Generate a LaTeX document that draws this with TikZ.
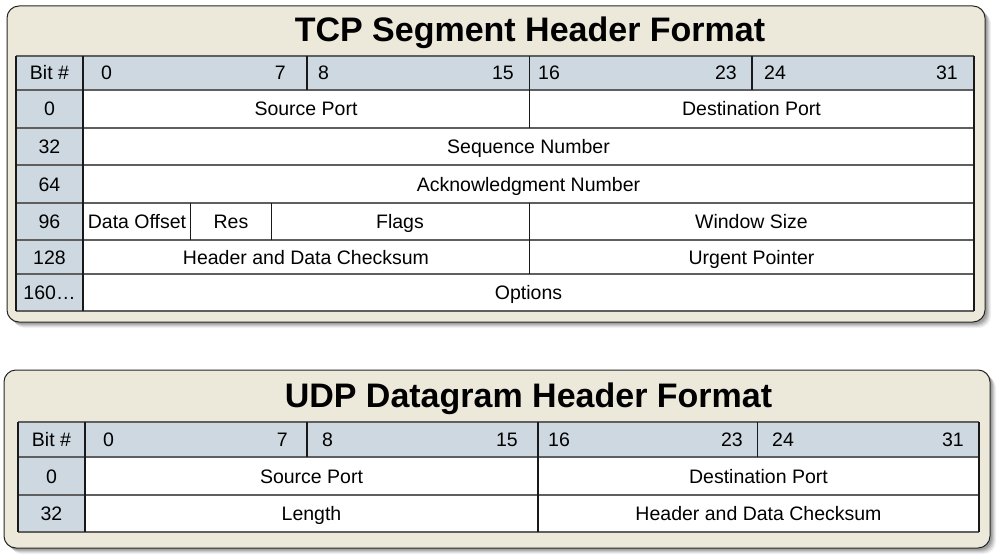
\documentclass[tikz,border=0pt]{standalone}
\usepackage{fontspec}
\setmainfont{Liberation Sans}
\definecolor{panelbg}{RGB}{236,233,218}
\definecolor{headbg}{RGB}{205,216,224}
\definecolor{hline}{RGB}{95,95,95}
\definecolor{vline}{RGB}{25,25,25}
\begin{document}
\begin{tikzpicture}[x=1pt,y=-1pt,
  panel/.style={fill=panelbg, draw=black!85, line width=1pt, rounded corners=12pt},
  shadowbox/.style={fill=black, rounded corners=12pt},
  hl/.style={draw=hline, line width=1.7pt},
  vl/.style={draw=vline, line width=1.2pt},
  txt/.style={inner sep=0pt, anchor=base, font=\fontsize{19.5}{22}\selectfont},
  numl/.style={txt, anchor=base west},
  numr/.style={txt, anchor=base east},
  ttl/.style={inner sep=0pt, anchor=base, font=\fontsize{34}{40}\selectfont\bfseries}]
\useasboundingbox (0,0) rectangle (998,559);

% ---------- shadows ----------
\foreach \o/\op in {6/0.05,5/0.07,4/0.09,3/0.11,2/0.12}{
  \fill[shadowbox, opacity=\op] (7+\o,6+\o) rectangle (985+\o,322+\o);
  \fill[shadowbox, opacity=\op] (4+\o,370+\o) rectangle (990+\o,548+\o);
}

% ================= TCP =================
\draw[panel] (7,6) rectangle (985,322);
\node[ttl] (tcptitle) at (530,42) {TCP Segment Header Format};

\fill[white] (16,56) rectangle (974,311);
\fill[headbg] (16,56) rectangle (974,90);
\fill[headbg] (16,90) rectangle (83,311);

\foreach \y in {90,128,165,203,240,274}{ \draw[hl] (16,\y) -- (974,\y); }
\draw[hl] (16,56) -- (974,56);
\draw[hl] (16,311) -- (974,311);
\draw[vl] (16,56) -- (16,311);
\draw[vl] (974,56) -- (974,311);
\draw[vl] (83,56) -- (83,311);
\draw[vl] (307,56) -- (307,90);
\draw[vl] (529.5,56) -- (529.5,128);
\draw[vl] (752,56) -- (752,90);
\draw[vl] (529.5,203) -- (529.5,274);
\draw[vl] (190.7,203) -- (190.7,240);
\draw[vl] (271.5,203) -- (271.5,240);

\node[txt] (tcpbit) at (49.5,80) {Bit \#};
\node[numl] (tcpn0) at (101,80) {0};
\node[numr] (tcpn7) at (286,80) {7};
\node[numl] (tcpn8) at (318,80) {8};
\node[numr] (tcpn15) at (514,80) {15};
\node[numl] (tcpn16) at (538,80) {16};
\node[numr] (tcpn23) at (737,80) {23};
\node[numl] (tcpn24) at (764,80) {24};
\node[numr] (tcpn31) at (958,80) {31};

\node[txt] (tcpr0) at (49.5,116) {0};
\node[txt] (tcpsrc) at (306,116) {Source Port};
\node[txt] (tcpdst) at (751.5,116) {Destination Port};

\node[txt] (tcpr32) at (49.5,153.5) {32};
\node[txt] (tcpseq) at (528.5,153.5) {Sequence Number};

\node[txt] (tcpr64) at (49.5,191) {64};
\node[txt] (tcpack) at (528.5,191) {Acknowledgment Number};

\node[txt] (tcpr96) at (49.5,228.5) {96};
\node[txt] (tcpoff) at (137,228.5) {Data Offset};
\node[txt] (tcpres) at (231,228.5) {Res};
\node[txt] (tcpflg) at (400,228.5) {Flags};
\node[txt] (tcpwin) at (751.5,228.5) {Window Size};

\node[txt] (tcpr128) at (49.5,264) {128};
\node[txt] (tcpchk) at (306,264) {Header and Data Checksum};
\node[txt] (tcpurg) at (751.5,264) {Urgent Pointer};

\node[txt] (tcpr160) at (49.5,299.5) {160…};
\node[txt] (tcpopt) at (528.5,299.5) {Options};

% ================= UDP =================
\draw[panel] (4,370) rectangle (990,548);
\node[ttl] (udptitle) at (528.5,407) {UDP Datagram Header Format};

\fill[white] (18,422) rectangle (979,532);
\fill[headbg] (18,422) rectangle (979,457);
\fill[headbg] (18,457) rectangle (85,532);

\foreach \y in {422,457,495,532}{ \draw[hl] (18,\y) -- (979,\y); }
\draw[vl] (18,422) -- (18,532);
\draw[vl] (979,422) -- (979,532);
\draw[vl] (85,422) -- (85,532);
\draw[vl] (307,422) -- (307,457);
\draw[vl] (538,422) -- (538,532);
\draw[vl] (757.5,422) -- (757.5,457);

\node[txt] (udpbit) at (51.5,446.5) {Bit \#};
\node[numl] (udpn0) at (103,446.5) {0};
\node[numr] (udpn7) at (288,446.5) {7};
\node[numl] (udpn8) at (322,446.5) {8};
\node[numr] (udpn15) at (518,446.5) {15};
\node[numl] (udpn16) at (548,446.5) {16};
\node[numr] (udpn23) at (743,446.5) {23};
\node[numl] (udpn24) at (772,446.5) {24};
\node[numr] (udpn31) at (964,446.5) {31};

\node[txt] (udpr0) at (51.5,483) {0};
\node[txt] (udpsrc) at (311.5,483) {Source Port};
\node[txt] (udpdst) at (758.5,483) {Destination Port};

\node[txt] (udpr32) at (51.5,520.5) {32};
\node[txt] (udplen) at (311.5,520.5) {Length};
\node[txt] (udpchk) at (758.5,520.5) {Header and Data Checksum};
\end{tikzpicture}
\end{document}
